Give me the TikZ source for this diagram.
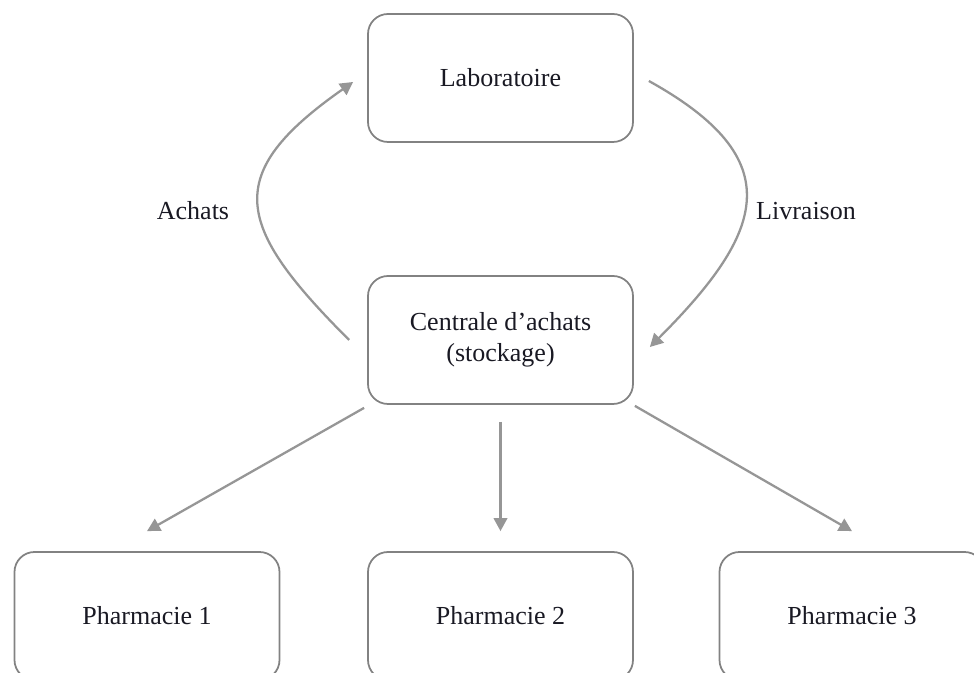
\documentclass[tikz,border=0pt]{standalone}
\usepackage{fontspec}
\setmainfont{Liberation Serif}
\usetikzlibrary{arrows.meta}
\definecolor{linegray}{RGB}{150,150,150}
\definecolor{boxgray}{RGB}{130,130,130}
\definecolor{textdark}{RGB}{25,25,35}

\begin{document}
\begin{tikzpicture}
  \tikzstyle{box}       = [rectangle,rounded corners=0.4cm,draw=boxgray,line width=1pt,
                           minimum width=5.3cm,minimum height=2.56cm,align=center,
                           text=textdark,font=\fontsize{14.8}{17.6}\selectfont]
  \tikzstyle{arrowtext} = [text=textdark,font=\fontsize{14.8}{17.6}\selectfont,anchor=base]
  \tikzstyle{flow}      = [-{Triangle[length=0.26cm,width=0.27cm]},draw=linegray,line width=1.3pt]
  \useasboundingbox (0,0) rectangle (19.48,13.46);
  % Boxes
  \path (10.01,11.90) node[box](lab) {Laboratoire};
  \path (10.01, 6.66) node[box](cen) {Centrale d'achats\\(stockage)};
  \path ( 2.94, 1.14) node[box](ph1) {Pharmacie 1};
  \path (10.01, 1.14) node[box](ph2) {Pharmacie 2};
  \path (17.04, 1.14) node[box](ph3) {Pharmacie 3};
  % Cycle between laboratoire and centrale
  \draw[flow] ([xshift=-0.36cm]cen.west) to[out=135,in=215,looseness=1.6]
              ([xshift=-0.28cm,yshift=-0.08cm]lab.west);
  \draw[flow] ([xshift=0.30cm,yshift=-0.06cm]lab.east) to[out=-29,in=45,looseness=1.56]
              ([xshift=0.32cm,yshift=-0.14cm]cen.east);
  \path ( 3.86, 9.06) node[arrowtext](achats) {Achats};
  \path (16.12, 9.06) node[arrowtext](livr) {Livraison};
  % Distribution to the pharmacies
  \draw[flow] ([xshift=-0.06cm,yshift=-0.06cm]cen.south west) -- ([yshift=0.4cm]ph1.north);
  \draw[flow] ([yshift=-0.34cm]cen.south) -- ([yshift=0.4cm]ph2.north);
  \draw[flow] ([xshift=0.02cm,yshift=-0.02cm]cen.south east) -- ([yshift=0.4cm]ph3.north);
\end{tikzpicture}
\end{document}
